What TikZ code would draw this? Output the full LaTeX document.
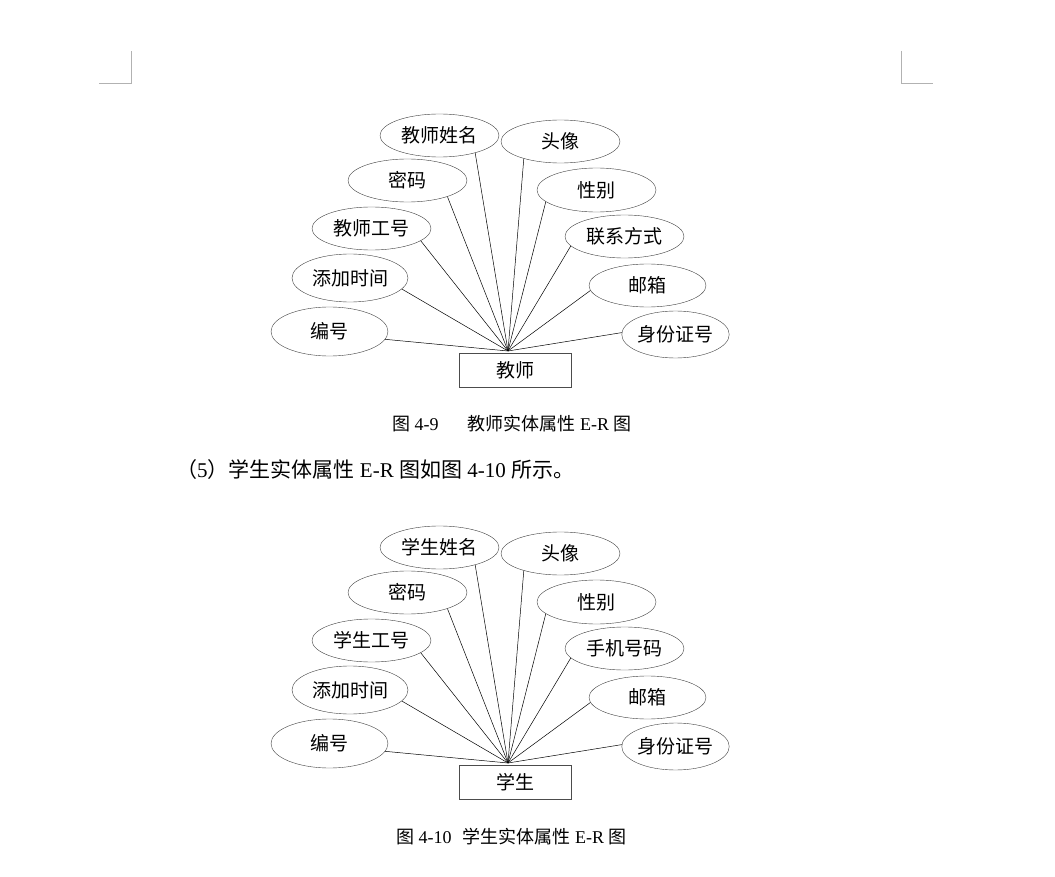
\documentclass[tikz,border=0pt]{standalone}
\usepackage{fontspec}
\setmainfont{Liberation Serif}
\newfontfamily\cjk{Noto Sans CJK SC}
\usetikzlibrary{shapes.geometric}
\newcommand\erfont{\cjk\fontsize{19pt}{19pt}\selectfont}

\begin{document}
\begin{tikzpicture}[
    x=1pt, y=-1pt,
    attr/.style={draw=black!75, ellipse, minimum width=119pt,
                 minimum height=43pt, inner sep=0pt, font=\erfont},
    ent/.style={draw=black!70, minimum width=112pt, minimum height=34pt,
                inner sep=0pt, font=\erfont},
    link/.style={black, line width=0.5pt},
    cropmark/.style={black!30, line width=0.8pt},
    figcap/.style={anchor=west, inner sep=0pt,
                   font=\fontsize{18pt}{18pt}\selectfont}
  ]
  \useasboundingbox[fill=white] (0,0) rectangle (1055,877);

  % Crop marks
  \draw[cropmark] (99,83) -- (131,83) -- (131,51);
  \draw[cropmark] (901,51) -- (901,83) -- (933,83);

  % Teacher entity
  \node[ent] (t-ent) at (515,370) {教师};
  \coordinate (t-hub) at (508,351);

  \node[attr] (t-name) at (439.5,135.5) {教师姓名};
  \node[attr] (t-photo) at (560.5,141.5) {头像};
  \node[attr] (t-pwd) at (407.5,180.5) {密码};
  \node[attr, minimum height=44pt] (t-sex) at (596.5,190) {性别};
  \node[attr] (t-num) at (371.5,228.5) {教师工号};
  \node[attr] (t-tel) at (624.5,236.5) {联系方式};
  \node[attr, minimum width=116pt, minimum height=48pt] (t-time) at (350,278) {添加时间};
  \node[attr, minimum width=117pt] (t-mail) at (647.5,285.5) {邮箱};
  \node[attr, minimum width=117pt, minimum height=49pt] (t-id) at (329.5,331.5) {编号};
  \node[attr, minimum width=103pt, minimum height=47pt] (t-card) at (675.5,334.5) {身份证号};

  \draw[link] (t-name.-26) -- (t-hub);
  \draw[link] (t-photo.205) -- (t-hub);
  \draw[link] (t-pwd.-22) -- (t-hub);
  \draw[link] (t-sex.193) -- (t-hub);
  \draw[link] (t-num.-14) -- (t-hub);
  \draw[link] (t-tel.190) -- (t-hub);
  \draw[link] (t-time.-12) -- (t-hub);
  \draw[link] (t-mail.185) -- (t-hub);
  \draw[link] (t-id.-8) -- (t-hub);
  \draw[link] (t-card.178) -- (t-hub);

  \node[figcap] (t-cap) at (392,424)
    {{\cjk 图} 4-9\hspace{29pt}{\cjk 教师实体属性} E-R {\cjk 图}};

  % Body text
  \node[anchor=west, inner sep=0pt, font=\fontsize{21pt}{21pt}\selectfont]
    (line5) at (176,470)
    {{\cjk （}5{\cjk ）学生实体属性} E-R {\cjk 图如图} 4-10 {\cjk 所示。}};

  % Student entity
  \node[ent] (s-ent) at (515,782) {学生};
  \coordinate (s-hub) at (508,763);

  \node[attr] (s-name) at (439.5,547.5) {学生姓名};
  \node[attr] (s-photo) at (560.5,553.5) {头像};
  \node[attr] (s-pwd) at (407.5,592.5) {密码};
  \node[attr, minimum height=44pt] (s-sex) at (596.5,602) {性别};
  \node[attr] (s-num) at (371.5,640.5) {学生工号};
  \node[attr] (s-tel) at (624.5,648.5) {手机号码};
  \node[attr, minimum width=116pt, minimum height=48pt] (s-time) at (350,690) {添加时间};
  \node[attr, minimum width=117pt] (s-mail) at (647.5,697.5) {邮箱};
  \node[attr, minimum width=117pt, minimum height=49pt] (s-id) at (329.5,743.5) {编号};
  \node[attr, minimum width=103pt, minimum height=47pt] (s-card) at (675.5,746.5) {身份证号};

  \draw[link] (s-name.-26) -- (s-hub);
  \draw[link] (s-photo.205) -- (s-hub);
  \draw[link] (s-pwd.-22) -- (s-hub);
  \draw[link] (s-sex.193) -- (s-hub);
  \draw[link] (s-num.-14) -- (s-hub);
  \draw[link] (s-tel.190) -- (s-hub);
  \draw[link] (s-time.-12) -- (s-hub);
  \draw[link] (s-mail.185) -- (s-hub);
  \draw[link] (s-id.-8) -- (s-hub);
  \draw[link] (s-card.178) -- (s-hub);

  \node[figcap] (s-cap) at (396,837)
    {{\cjk 图} 4-10\hspace{11pt}{\cjk 学生实体属性} E-R {\cjk 图}};
\end{tikzpicture}
\end{document}
